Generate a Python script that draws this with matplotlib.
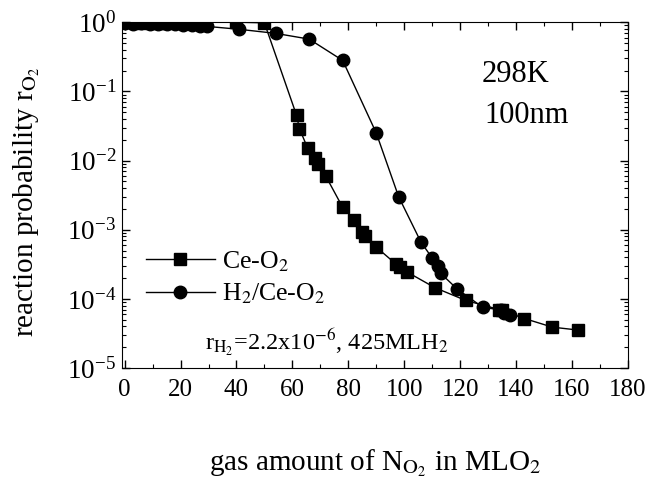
import matplotlib
matplotlib.use("Agg")
import matplotlib.pyplot as plt
from matplotlib.ticker import MultipleLocator, LogLocator, NullFormatter

plt.rcParams['font.family'] = ['Liberation Serif', 'DejaVu Serif']
plt.rcParams['mathtext.fontset'] = 'stix'

# Ce-O2
ce_x = [0, 2, 4, 6, 8, 10, 12, 14, 17, 19, 28, 40, 50,
        61.5, 62.5, 65.5, 68, 69, 72, 78, 82, 85, 86, 90,
        97, 98.5, 101, 111, 122, 134, 135, 143, 153, 162]
ce_y = [1.0, 1.0, 0.98, 1.0, 0.98, 1.0, 0.99, 0.97, 1.0, 0.99, 1.0, 1.0, 0.98,
        0.045, 0.029, 0.015, 0.011, 0.009, 0.0059, 0.0021, 0.0014, 9.3e-4, 8.1e-4, 5.6e-4,
        3.2e-4, 2.9e-4, 2.45e-4, 1.45e-4, 9.5e-5, 7.0e-5, 6.8e-5, 5.2e-5, 3.9e-5, 3.55e-5]

# H2/Ce-O2
h2_x = [0, 3, 6, 9, 12, 15, 18, 21, 24, 27, 29.5, 41, 54, 66, 78, 90,
        98, 106, 110, 112, 113, 119, 128, 134.5, 135.6, 138]
h2_y = [0.97, 0.95, 0.96, 0.94, 0.95, 0.93, 0.94, 0.92, 0.91, 0.89, 0.87, 0.79, 0.69, 0.57, 0.28, 0.025,
        0.003, 6.6e-4, 3.9e-4, 3.0e-4, 2.35e-4, 1.38e-4, 7.6e-5, 6.9e-5, 6.3e-5, 5.9e-5]

fig = plt.figure(figsize=(6.48, 4.83), dpi=100)
ax = fig.add_axes([0.188, 0.238, 0.781, 0.716])

ax.plot(ce_x, ce_y, '-', color='black', lw=1.0, marker='s', ms=8,
        label='Ce-O$_2$')
ax.plot(h2_x, h2_y, '-', color='black', lw=1.0, marker='o', ms=9,
        label='H$_2$/Ce-O$_2$')

ax.set_yscale('log')
ax.set_xlim(-1, 180)
ax.set_ylim(1e-5, 1.0)

ax.xaxis.set_major_locator(MultipleLocator(20))
ax.xaxis.set_minor_locator(MultipleLocator(10))
ax.yaxis.set_major_locator(LogLocator(base=10, numticks=10))
ax.yaxis.set_minor_locator(LogLocator(base=10, subs=range(2, 10), numticks=20))
ax.yaxis.set_minor_formatter(NullFormatter())

ax.tick_params(which='both', direction='in', top=True, right=True)
ax.tick_params(which='major', length=6, width=1)
ax.tick_params(which='minor', length=3, width=0.8)
ax.tick_params(axis='x', labelsize=18, pad=8)
ax.tick_params(axis='y', labelsize=19.5, pad=4)

ax.set_xlabel('gas amount of N$_{\\mathrm{O_2}}$ in MLO$_2$', fontsize=21)
ax.set_ylabel('reaction probability r$_{\\mathrm{O_2}}$', fontsize=21)
ax.xaxis.set_label_coords(0.5, -0.228)
ax.yaxis.set_label_coords(-0.158, 0.48)

ax.text(0.711, 0.827, '298K', transform=ax.transAxes, fontsize=22, va='baseline')
ax.text(0.717, 0.708, '100nm', transform=ax.transAxes, fontsize=22, va='baseline')
ax.text(0.164, 0.052, 'r$_{\\mathrm{H_2}}$=2.2x10$^{-6}$, 425MLH$_2$',
        transform=ax.transAxes, fontsize=17.5, va='baseline')

leg = ax.legend(loc='upper left', bbox_to_anchor=(0.047, 0.343), frameon=False,
                fontsize=18.5, handlelength=2.7, handletextpad=0.27,
                labelspacing=0.3, borderpad=0, borderaxespad=0)

fig.savefig('out.png', dpi=100)
